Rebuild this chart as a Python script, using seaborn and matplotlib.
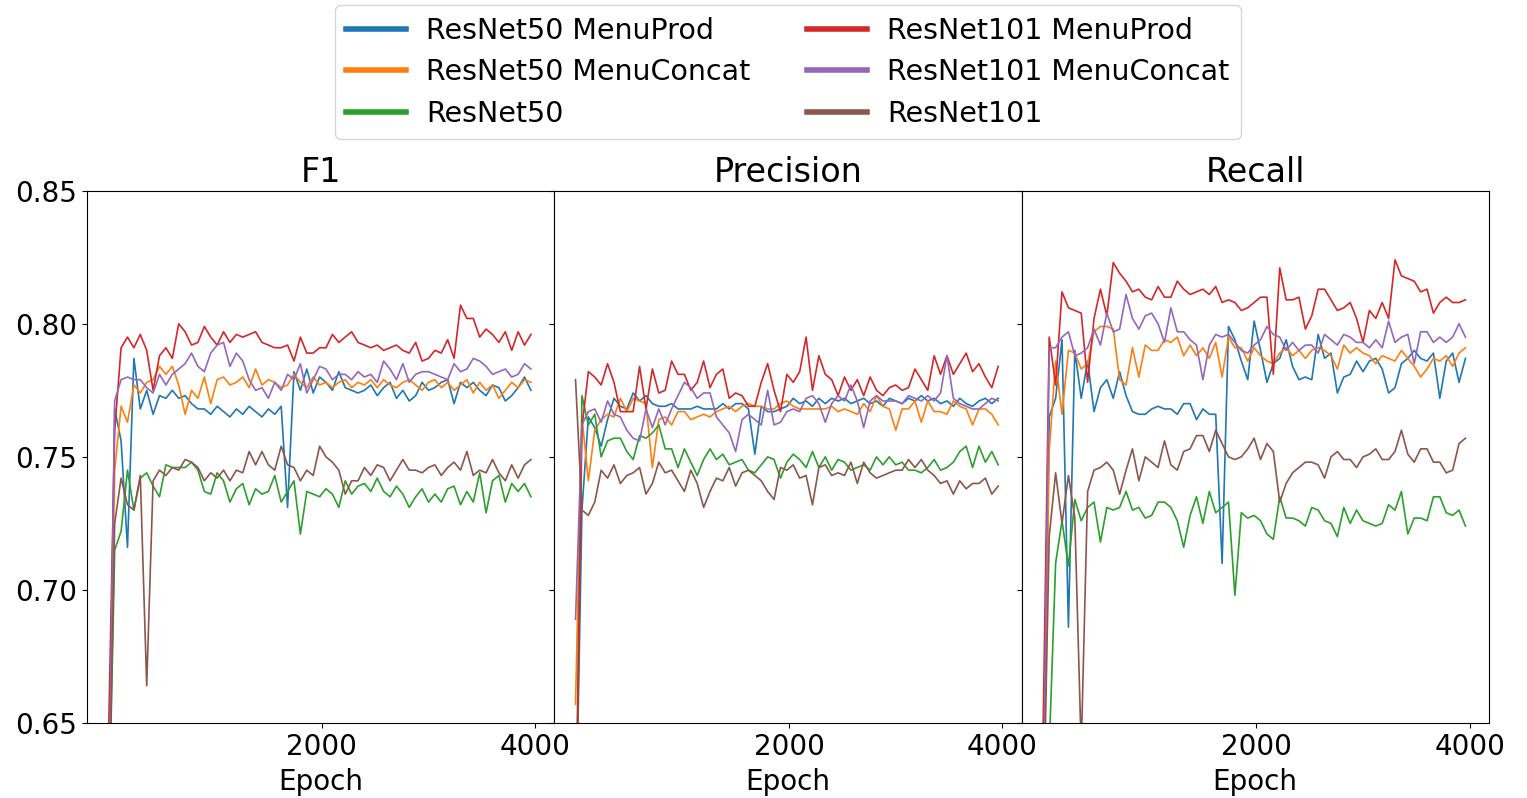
import matplotlib
matplotlib.use("Agg")
import matplotlib.pyplot as plt
import pandas as pd
import seaborn as sns
from matplotlib.lines import Line2D

# scores are stored in thousandths, one value every 60 epochs
epochs = list(range(0, 3961, 60))
models = ["ResNet50 MenuProd", "ResNet50 MenuConcat", "ResNet50",
          "ResNet101 MenuProd", "ResNet101 MenuConcat", "ResNet101"]
colors = ["#1f77b4", "#ff7f0e", "#2ca02c", "#d62728", "#9467bd", "#8c564b"]
metrics = ["F1", "Precision", "Recall"]

f1_r50_prod = [600, 768, 756, 716, 787, 768, 775, 766, 773, 772, 775, 772, 773, 770, 768, 768, 766,
               769, 767, 765, 768, 766, 769, 767, 765, 768, 766, 769, 731, 782, 775, 783, 774, 780,
               778, 775, 782, 776, 775, 774, 775, 777, 773, 776, 778, 772, 775, 771, 773, 778, 775,
               776, 778, 779, 770, 778, 776, 778, 775, 773, 777, 776, 771, 773, 776, 780, 775]
f1_r50_concat = [600, 745, 769, 763, 777, 774, 778, 779, 784, 781, 784, 777, 766, 775, 772, 780, 770,
                 779, 780, 777, 778, 780, 776, 783, 777, 779, 778, 776, 777, 781, 778, 776, 780, 777,
                 778, 776, 778, 779, 776, 778, 777, 779, 776, 779, 777, 776, 778, 779, 777, 775, 778,
                 779, 776, 778, 775, 777, 779, 774, 778, 775, 777, 772, 775, 778, 776, 779, 778]
f1_r50 = [600, 715, 722, 745, 730, 742, 744, 739, 735, 747, 746, 746, 746, 748, 745, 737, 736,
          744, 741, 733, 738, 740, 732, 738, 736, 737, 743, 733, 737, 741, 721, 737, 736, 735,
          738, 736, 731, 741, 736, 739, 740, 737, 742, 737, 735, 739, 736, 731, 735, 738, 733,
          736, 733, 738, 739, 732, 737, 733, 744, 729, 741, 743, 733, 740, 737, 740, 735]
f1_r101_prod = [640, 760, 791, 795, 791, 796, 790, 775, 788, 791, 787, 800, 797, 792, 793, 799, 795,
                792, 797, 793, 796, 795, 796, 797, 793, 792, 791, 791, 792, 786, 795, 789, 789, 791,
                791, 796, 793, 795, 797, 793, 792, 791, 792, 790, 791, 792, 790, 789, 793, 786, 787,
                790, 789, 794, 787, 807, 802, 802, 795, 798, 796, 793, 797, 790, 797, 792, 796]
f1_r101_concat = [600, 771, 779, 780, 779, 779, 776, 774, 781, 777, 781, 783, 785, 789, 784, 782, 789,
                  792, 793, 784, 789, 786, 779, 775, 776, 772, 778, 775, 781, 779, 785, 774, 779, 784,
                  783, 779, 781, 781, 779, 782, 780, 781, 778, 786, 783, 779, 785, 778, 781, 782, 782,
                  781, 780, 779, 785, 782, 783, 787, 786, 784, 781, 782, 783, 780, 781, 785, 783]
f1_r101 = [600, 725, 742, 732, 730, 743, 664, 741, 745, 743, 746, 745, 749, 748, 746, 741, 744,
           742, 745, 741, 745, 744, 752, 747, 752, 747, 745, 754, 747, 746, 741, 745, 743, 754,
           750, 748, 745, 736, 741, 741, 746, 743, 747, 746, 741, 745, 749, 745, 745, 744, 746,
           747, 743, 746, 748, 745, 752, 743, 745, 744, 749, 744, 741, 747, 742, 747, 749]

p_r50_prod = [600, 730, 765, 761, 754, 764, 772, 769, 768, 774, 771, 773, 770, 769, 769, 770, 768,
              768, 768, 769, 768, 768, 768, 770, 768, 770, 770, 768, 751, 769, 767, 767, 768, 769,
              772, 770, 771, 769, 772, 770, 772, 771, 772, 770, 771, 772, 770, 771, 769, 772, 771,
              770, 772, 771, 773, 771, 772, 770, 771, 769, 772, 770, 769, 771, 772, 770, 772]
p_r50_concat = [657, 765, 741, 760, 764, 766, 765, 772, 767, 772, 771, 770, 746, 764, 765, 762, 767,
                767, 764, 765, 766, 765, 767, 768, 769, 767, 769, 770, 769, 769, 768, 768, 770, 771,
                769, 768, 768, 768, 768, 768, 769, 767, 768, 767, 766, 770, 767, 773, 769, 768, 760,
                768, 768, 771, 763, 771, 767, 767, 766, 771, 769, 768, 762, 768, 768, 766, 762]
p_r50 = [600, 773, 762, 766, 750, 756, 757, 757, 752, 749, 758, 757, 759, 762, 753, 753, 746,
         753, 748, 743, 749, 753, 749, 751, 747, 748, 749, 745, 744, 747, 750, 749, 742, 748,
         751, 749, 746, 752, 746, 750, 745, 749, 748, 745, 746, 747, 745, 750, 747, 750, 747,
         748, 745, 745, 744, 746, 749, 745, 746, 748, 752, 754, 746, 754, 748, 752, 747]
p_r101_prod = [600, 761, 782, 780, 777, 785, 778, 767, 767, 767, 784, 768, 783, 774, 775, 786, 781,
               781, 775, 778, 786, 776, 781, 783, 772, 774, 773, 769, 769, 778, 785, 775, 767, 781,
               778, 782, 795, 775, 788, 781, 779, 773, 780, 775, 779, 773, 780, 775, 773, 776, 777,
               775, 776, 783, 779, 775, 788, 781, 788, 781, 785, 789, 782, 785, 780, 776, 784]
p_r101_concat = [689, 762, 767, 768, 763, 771, 766, 765, 760, 757, 756, 768, 761, 768, 762, 768, 773,
                 778, 776, 772, 774, 774, 765, 762, 759, 752, 764, 766, 764, 762, 775, 762, 763, 767,
                 768, 767, 772, 773, 770, 763, 770, 773, 771, 777, 771, 761, 771, 773, 771, 771, 771,
                 770, 773, 772, 771, 773, 771, 774, 788, 772, 770, 769, 768, 768, 770, 772, 771]
p_r101 = [779, 730, 728, 733, 745, 742, 747, 740, 743, 744, 746, 736, 740, 748, 744, 745, 741,
          737, 745, 740, 731, 737, 742, 741, 746, 739, 744, 745, 743, 741, 737, 734, 746, 745,
          747, 742, 743, 732, 746, 747, 743, 744, 743, 748, 740, 748, 744, 742, 743, 744, 745,
          745, 749, 746, 749, 745, 743, 740, 741, 736, 741, 738, 740, 740, 742, 736, 739]

r_r50_prod = [600, 765, 772, 794, 686, 790, 772, 786, 767, 776, 779, 772, 782, 773, 767, 766, 766,
              768, 769, 768, 768, 766, 770, 770, 764, 768, 766, 766, 710, 799, 794, 786, 779, 801,
              790, 778, 785, 787, 794, 784, 779, 780, 779, 796, 787, 789, 774, 780, 781, 786, 782,
              786, 787, 783, 774, 776, 785, 787, 790, 787, 786, 789, 772, 786, 789, 778, 787]
r_r50_concat = [600, 752, 786, 766, 790, 789, 783, 785, 797, 799, 799, 798, 779, 777, 791, 780, 792,
                790, 790, 794, 793, 795, 788, 792, 788, 791, 787, 793, 780, 795, 791, 791, 786, 791,
                788, 786, 785, 789, 791, 788, 790, 787, 790, 791, 790, 788, 783, 792, 789, 791, 789,
                788, 785, 788, 787, 786, 790, 787, 784, 780, 783, 787, 786, 788, 784, 789, 791]
r_r50 = [600, 640, 710, 726, 709, 734, 726, 731, 733, 718, 731, 730, 731, 737, 730, 731, 727,
         728, 733, 733, 731, 726, 716, 728, 735, 725, 737, 729, 731, 733, 698, 729, 727, 728,
         726, 721, 719, 735, 727, 727, 726, 724, 731, 730, 726, 725, 720, 731, 725, 730, 726,
         725, 724, 725, 732, 730, 737, 721, 727, 727, 726, 735, 735, 729, 728, 730, 724]
r_r101_prod = [640, 795, 777, 812, 806, 805, 804, 778, 802, 813, 803, 823, 819, 816, 812, 813, 810,
               809, 814, 810, 810, 816, 813, 811, 812, 813, 811, 814, 808, 809, 808, 805, 806, 808,
               810, 810, 781, 821, 809, 809, 810, 798, 803, 813, 813, 809, 805, 806, 808, 802, 793,
               805, 802, 808, 802, 824, 818, 817, 816, 812, 813, 804, 808, 810, 808, 808, 809]
r_r101_concat = [600, 791, 791, 795, 797, 788, 789, 791, 798, 792, 804, 797, 798, 811, 802, 798, 803,
                 804, 800, 793, 806, 797, 797, 794, 792, 779, 792, 796, 795, 796, 793, 790, 789, 792,
                 794, 799, 796, 795, 790, 793, 790, 792, 792, 789, 796, 794, 792, 796, 795, 793, 793,
                 791, 794, 791, 801, 793, 795, 796, 785, 797, 797, 793, 795, 793, 795, 800, 795]
r_r101 = [600, 720, 744, 725, 743, 727, 640, 737, 745, 746, 748, 745, 736, 745, 753, 741, 750,
          748, 746, 756, 747, 745, 752, 753, 758, 758, 752, 760, 755, 750, 749, 750, 753, 757,
          749, 755, 752, 733, 740, 744, 746, 748, 748, 747, 742, 750, 752, 749, 749, 746, 750,
          751, 753, 749, 749, 752, 760, 751, 748, 753, 753, 748, 748, 744, 745, 755, 757]

scores = {
    "F1": [f1_r50_prod, f1_r50_concat, f1_r50, f1_r101_prod, f1_r101_concat, f1_r101],
    "Precision": [p_r50_prod, p_r50_concat, p_r50, p_r101_prod, p_r101_concat, p_r101],
    "Recall": [r_r50_prod, r_r50_concat, r_r50, r_r101_prod, r_r101_concat, r_r101],
}

rows = []
for metric, series_list in scores.items():
    for model, series in zip(models, series_list):
        for epoch, value in zip(epochs, series):
            rows.append({"metric": metric, "model": model, "epoch": epoch, "score": value / 1000})
df = pd.DataFrame(rows)

fig, axes = plt.subplots(1, 3, figsize=(15.27, 7.98), sharey=True)
fig.subplots_adjust(left=0.057, right=0.975, top=0.761, bottom=0.094, wspace=0)

for ax, metric in zip(axes, metrics):
    sns.lineplot(
        data=df[df["metric"] == metric],
        x="epoch",
        y="score",
        hue="model",
        hue_order=models,
        palette=colors,
        estimator=None,
        linewidth=1.2,
        legend=False,
        ax=ax,
    )
    ax.set_title(metric, fontsize=24)
    ax.set_xlabel("Epoch", fontsize=20, labelpad=5)
    ax.set_ylabel("")
    ax.set_xlim(-199, 4179)
    ax.set_xticks([2000, 4000])
    ax.tick_params(labelsize=20)

axes[0].set_ylim(0.65, 0.85)
axes[0].set_yticks([0.65, 0.70, 0.75, 0.80, 0.85])

handles = [Line2D([], [], color=c, linewidth=4) for c in colors]
fig.legend(handles, models, loc="upper center", bbox_to_anchor=(0.516, 1.011),
           ncol=2, fontsize=20.5, handlelength=2.1, handletextpad=0.7, labelspacing=0.47)

plt.savefig("out.png", dpi=100)
plt.close()
